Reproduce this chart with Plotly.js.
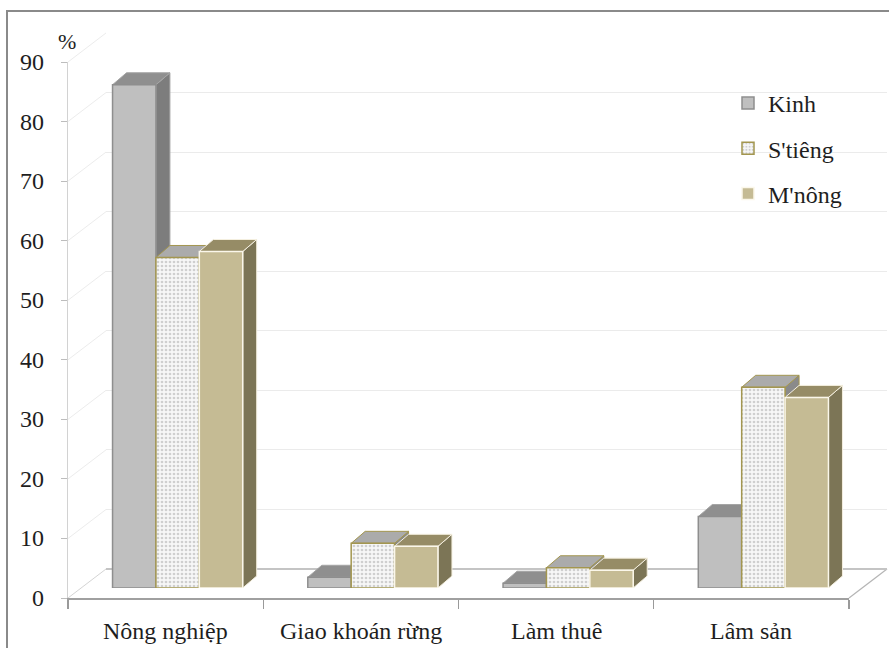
<!DOCTYPE html>
<html>
<head>
<meta charset="utf-8">
<script src="https://cdn.plot.ly/plotly-3.0.1.min.js"></script>
<style>
html,body{margin:0;padding:0;background:#fff;}
#chart{width:889px;height:648px;}
#chart svg text{font-family:'Liberation Serif' !important;}
</style>
</head>
<body>
<div id="chart"></div>
<script>
// ---- data ----
var categories = ["Nông nghiệp", "Giao khoán rừng", "Làm thuê", "Lâm sản"];
var seriesNames = ["Kinh", "S'tiêng", "M'nông"];
var kinh = [84.5, 1.8, 0.8, 12.0];
var stieng = [55.5, 7.5, 3.4, 33.7];
var mnong = [56.5, 7.0, 3.0, 32.0];
var yTicks = [0, 10, 20, 30, 40, 50, 60, 70, 80, 90];
var unitLabel = "%";

// ---- geometry (pixels) ----
var W = 889, H = 648;
var front = {x0: 68, x1: 849, y0: 598, y1: 62};
var back  = {x0: 106, x1: 887, y0: 569, y1: 33};
var bars  = {x0: 80, x1: 861, y0: 588, y1: 52};
var depthPx = {dx: 14, dy: 12};
var yMax = 90;

function px(x) { return x / W; }
function py(y) { return 1 - y / H; }

var catW = (bars.x1 - bars.x0) / categories.length;
var unitPx = (bars.y0 - bars.y1) / yMax;
var dX = depthPx.dx / catW;
var dY = depthPx.dy / unitPx;

var barW = 2 / 9;
var offsets = [-1/3, -1/3 + barW, -1/3 + 2 * barW];
var values = [kinh, stieng, mnong];
var idx = categories.map(function (c, i) { return i; });

var styles = [
  {front: '#bfbfbf', line: '#8e8e8e', top: '#8f8f8f', side: '#7d7d7d', edge: '#a5a5a5'},
  {front: '#fbfbfb', line: '#a3964f', top: '#ababab', side: '#8a8a8a', edge: '#a3964f'},
  {front: '#c5bb94', line: '#fbf7ea', top: '#968c66', side: '#7c7556', edge: '#f4efdf'}
];

var serifFam = 'Liberation Serif';
var textColor = '#1e1e1e';

var traces = [];
traces.push({type: 'scatter', mode: 'none', x: [0], y: [0], xaxis: 'x', yaxis: 'y', showlegend: false, hoverinfo: 'skip'});
traces.push({type: 'scatter', mode: 'none', x: categories, y: categories.map(function(){return 0;}), xaxis: 'x2', yaxis: 'y2', showlegend: false, hoverinfo: 'skip'});
for (var s = 0; s < 3; s++) {
  var m = {color: styles[s].front, line: {color: styles[s].line, width: 1.5}};
  if (s === 1) {
    m.pattern = {shape: '.', fgcolor: '#cfcfcf', bgcolor: '#f7f7f7', size: 4, solidity: 0.35};
  }
  traces.push({
    type: 'bar', name: seriesNames[s], x: idx, y: values[s],
    offset: offsets[s], width: barW, xaxis: 'x3', yaxis: 'y3',
    marker: m, legendgroup: 'g' + s, hoverinfo: 'y'
  });
}

var shapes = [];
shapes.push({type: 'rect', xref: 'paper', yref: 'paper', x0: px(7), x1: 1.02, y0: -0.05, y1: py(11), line: {color: '#8a8a8a', width: 2}, layer: 'below'});
yTicks.forEach(function (v) {
  var yf = front.y0 - (front.y0 - front.y1) * v / yMax;
  var yb = back.y0 - (back.y0 - back.y1) * v / yMax;
  shapes.push({type: 'line', xref: 'paper', yref: 'paper', x0: px(front.x0), y0: py(yf), x1: px(back.x0), y1: py(yb),
    line: {color: v === 0 ? '#d4d4d4' : '#ececec', width: 1}, layer: 'below'});
});
shapes.push({type: 'line', xref: 'paper', yref: 'paper', x0: px(front.x1), y0: py(front.y0), x1: px(back.x1), y1: py(back.y0),
  line: {color: '#b5b5b5', width: 1.2}, layer: 'below'});

for (var i = 0; i < categories.length; i++) {
  for (var s2 = 0; s2 < 3; s2++) {
    var v = values[s2][i];
    var L = i + offsets[s2], R = L + barW;
    var st = styles[s2];
    shapes.push({type: 'path', xref: 'x3', yref: 'y3', layer: 'below',
      path: 'M' + R + ',0 L' + R + ',' + v + ' L' + (R + dX) + ',' + (v + dY) + ' L' + (R + dX) + ',' + dY + ' Z',
      fillcolor: st.side, line: {color: st.edge, width: 1}});
    shapes.push({type: 'path', xref: 'x3', yref: 'y3', layer: 'below',
      path: 'M' + L + ',' + v + ' L' + R + ',' + v + ' L' + (R + dX) + ',' + (v + dY) + ' L' + (L + dX) + ',' + (v + dY) + ' Z',
      fillcolor: st.top, line: {color: st.edge, width: 1}});
  }
}

var annotations = [];
categories.forEach(function (c) {
  annotations.push({text: c, xref: 'x2', yref: 'paper', x: c, y: py(631), xanchor: 'center', yanchor: 'middle',
    showarrow: false, font: {size: 24, family: serifFam, color: textColor}});
});
yTicks.forEach(function (t) {
  annotations.push({text: String(t), xref: 'paper', yref: 'y2', x: px(46), y: t, xanchor: 'right', yanchor: 'middle',
    showarrow: false, font: {size: 24, family: serifFam, color: textColor}});
});
annotations.push({text: unitLabel, xref: 'paper', yref: 'paper', x: px(67), y: py(42), xanchor: 'center', yanchor: 'middle', showarrow: false,
  font: {size: 22, family: serifFam, color: textColor}});

var layout = {
  width: W, height: H,
  margin: {l: 0, r: 0, t: 0, b: 0},
  paper_bgcolor: '#ffffff', plot_bgcolor: 'rgba(0,0,0,0)',
  showlegend: true,
  barmode: 'overlay',
  xaxis: {domain: [px(back.x0), px(back.x1)], range: [0, 1], visible: false, anchor: 'y', fixedrange: true},
  yaxis: {domain: [py(back.y0), py(back.y1)], range: [0, yMax], anchor: 'x', tickvals: yTicks,
    showgrid: true, gridcolor: '#ebebeb', gridwidth: 1, zeroline: true, zerolinecolor: '#c4c4c4', zerolinewidth: 1.2,
    showticklabels: false, ticks: '', showline: false, fixedrange: true},
  xaxis2: {domain: [px(front.x0), px(front.x1)], type: 'category', anchor: 'y2', tickson: 'boundaries',
    range: [-0.5, categories.length - 0.5], showticklabels: false,
    ticks: 'outside', ticklen: 9, tickcolor: '#9a9a9a', tickwidth: 1.2, showline: true, linecolor: '#a0a0a0', linewidth: 1.5,
    showgrid: false, zeroline: false, fixedrange: true},
  yaxis2: {domain: [py(front.y0), py(front.y1)], range: [0, yMax], anchor: 'x2', tickvals: yTicks, showticklabels: false,
    ticks: 'outside', ticklen: 6, tickcolor: '#bdbdbd', showline: true, linecolor: '#d2d2d2', linewidth: 1.2,
    showgrid: false, zeroline: false, fixedrange: true},
  xaxis3: {domain: [px(bars.x0), px(bars.x1)], range: [-0.5, categories.length - 0.5], visible: false, anchor: 'y3', fixedrange: true},
  yaxis3: {domain: [py(bars.y0), py(bars.y1)], range: [0, yMax], visible: false, anchor: 'x3', fixedrange: true},
  legend: {x: px(728), y: py(81), xanchor: 'left', yanchor: 'top', bgcolor: 'rgba(0,0,0,0)',
    font: {size: 24, family: serifFam, color: textColor}, traceorder: 'grouped', tracegroupgap: 11, itemwidth: 30},
  shapes: shapes,
  annotations: annotations
};

Plotly.newPlot('chart', traces, layout, {displayModeBar: false, staticPlot: true});
</script>
</body>
</html>
